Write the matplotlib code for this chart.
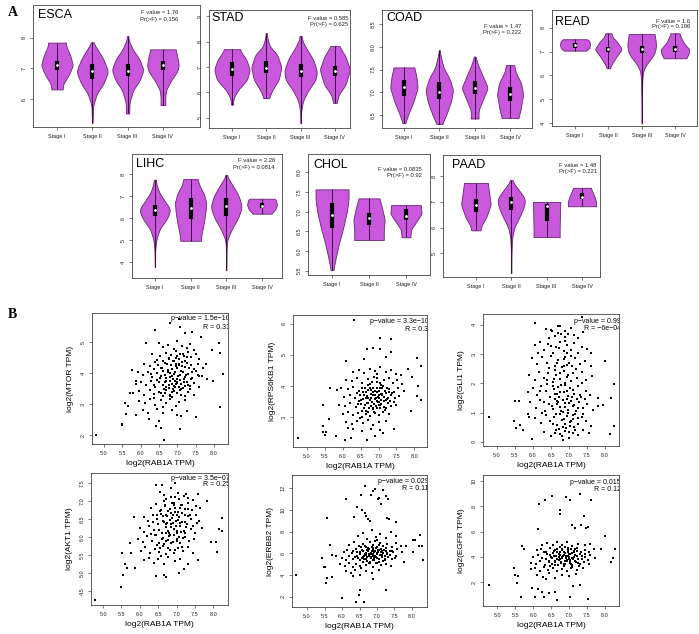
import numpy as np
import matplotlib
matplotlib.use('Agg')
import matplotlib.pyplot as plt

plt.rcParams['font.family'] = ['Liberation Sans', 'DejaVu Sans']

# ---------------- panel A: violin data ----------------
stages4 = ['Stage I', 'Stage II', 'Stage III', 'Stage IV']
stages3 = ['Stage I', 'Stage II', 'Stage IV']

# each violin: (levels, relative half-widths); boxes: (q1, median, q3)
esca_prof = [
    ([6.32, 6.5, 6.8, 7.1, 7.4, 7.7, 7.84], [0.35, 0.4, 0.75, 1.0, 0.85, 0.6, 0.55]),
    ([5.24, 5.8, 6.2, 6.5, 6.9, 7.3, 7.6, 7.85], [0.02, 0.05, 0.3, 0.7, 1.0, 0.7, 0.35, 0.05]),
    ([5.54, 5.9, 6.3, 6.6, 6.95, 7.3, 7.6, 7.9, 8.05], [0.1, 0.12, 0.35, 0.75, 1.0, 0.75, 0.35, 0.08, 0.03]),
    ([5.81, 6.1, 6.3, 6.6, 6.9, 7.1, 7.4, 7.62], [0.15, 0.15, 0.2, 0.5, 0.9, 1.0, 0.9, 0.8]),
]
esca_box = [(6.95, 7.1, 7.25), (6.65, 6.92, 7.15), (6.75, 6.93, 7.15), (6.95, 7.12, 7.25)]

stad_prof = [
    ([5.52, 5.8, 6.1, 6.5, 6.9, 7.3, 7.6, 7.7], [0.05, 0.1, 0.35, 0.85, 1.0, 0.8, 0.5, 0.45]),
    ([5.78, 6.1, 6.5, 7.0, 7.5, 7.8, 8.1, 8.33], [0.15, 0.35, 0.7, 0.85, 0.6, 0.2, 0.07, 0.03]),
    ([4.78, 5.3, 5.7, 6.1, 6.5, 6.85, 7.3, 7.7, 8.0, 8.22], [0.01, 0.03, 0.15, 0.45, 0.85, 0.92, 0.7, 0.35, 0.12, 0.04]),
    ([5.59, 5.9, 6.3, 6.9, 7.4, 7.7, 7.82], [0.1, 0.2, 0.6, 0.85, 0.6, 0.35, 0.25]),
]
stad_box = [(6.63, 6.93, 7.2), (6.75, 6.95, 7.25), (6.6, 6.85, 7.1), (6.65, 6.85, 7.05)]

coad_prof = [
    ([6.32, 6.5, 6.8, 7.1, 7.35, 7.55], [0.1, 0.3, 0.7, 1.0, 0.9, 0.75]),
    ([6.3, 6.5, 6.8, 7.05, 7.3, 7.55, 7.8, 7.93], [0.2, 0.5, 0.85, 1.0, 0.75, 0.3, 0.1, 0.03]),
    ([6.42, 6.6, 6.8, 7.1, 7.35, 7.6, 7.79], [0.28, 0.28, 0.55, 0.95, 0.6, 0.25, 0.05]),
    ([6.43, 6.6, 6.95, 7.2, 7.45, 7.6], [0.6, 0.75, 0.95, 0.8, 0.4, 0.3]),
]
coad_box = [(6.92, 7.12, 7.28), (6.85, 7.0, 7.23), (6.97, 7.1, 7.25), (6.8, 6.96, 7.12)]

read_prof = [
    ([7.04, 7.15, 7.3, 7.45, 7.52], [0.75, 0.95, 1.0, 0.95, 0.8]),
    ([6.3, 6.5, 6.8, 7.1, 7.4, 7.6, 7.77], [0.1, 0.25, 0.55, 0.9, 0.6, 0.3, 0.2]),
    ([3.98, 5.0, 5.8, 6.2, 6.5, 6.8, 7.1, 7.4, 7.74], [0.01, 0.02, 0.04, 0.1, 0.35, 0.75, 0.95, 0.95, 0.85]),
    ([6.72, 6.9, 7.1, 7.35, 7.6, 7.77], [0.75, 0.9, 0.95, 0.6, 0.4, 0.3]),
]
read_box = [(7.17, 7.27, 7.37), (7.0, 7.1, 7.2), (6.95, 7.1, 7.25), (6.98, 7.1, 7.25)]

lihc_prof = [
    ([3.78, 4.5, 5.0, 5.5, 6.0, 6.4, 6.8, 7.2, 7.5, 7.74], [0.01, 0.02, 0.08, 0.3, 0.8, 1.0, 0.6, 0.25, 0.12, 0.05]),
    ([4.97, 5.3, 5.8, 6.3, 6.7, 7.1, 7.5, 7.77], [0.65, 0.7, 0.85, 0.95, 1.0, 0.85, 0.55, 0.45]),
    ([3.63, 4.5, 5.0, 5.5, 6.0, 6.5, 7.0, 7.5, 7.8, 7.96], [0.01, 0.02, 0.05, 0.35, 0.75, 1.0, 0.8, 0.4, 0.12, 0.03]),
    ([6.2, 6.4, 6.6, 6.8, 6.88], [0.6, 0.85, 0.95, 0.9, 0.8]),
]
lihc_box = [(6.1, 6.37, 6.6), (5.95, 6.45, 6.9), (6.1, 6.55, 6.9), (6.45, 6.57, 6.68)]

chol_prof = [
    ([5.52, 5.8, 6.2, 6.6, 7.0, 7.3, 7.57], [0.08, 0.2, 0.4, 0.65, 0.85, 0.95, 0.95]),
    ([6.28, 6.5, 6.8, 7.1, 7.34], [0.85, 0.85, 0.9, 0.75, 0.6]),
    ([6.35, 6.55, 6.75, 6.95, 7.17], [0.25, 0.3, 0.6, 0.9, 0.85]),
]
chol_box = [(6.58, 6.92, 7.23), (6.65, 6.83, 6.97), (6.8, 6.9, 7.07)]

paad_prof = [
    ([5.89, 6.1, 6.4, 6.9, 7.3, 7.74], [0.3, 0.4, 0.7, 1.0, 0.9, 0.8]),
    ([4.22, 5.0, 5.6, 6.0, 6.4, 6.8, 7.1, 7.4, 7.7, 7.85], [0.01, 0.02, 0.06, 0.2, 0.55, 0.85, 0.95, 0.6, 0.2, 0.05]),
    ([5.63, 6.0, 6.5, 7.0], [0.88, 0.88, 0.9, 0.92]),
    ([6.83, 7.0, 7.2, 7.4, 7.55], [0.95, 0.95, 0.85, 0.7, 0.6]),
]
paad_box = [(6.6, 6.88, 7.12), (6.7, 7.0, 7.2), (6.25, 6.85, 6.9), (7.1, 7.2, 7.35)]

# (F value, Pr(>F))
violin_stats = {
    'ESCA': ('1.76', '0.156'), 'STAD': ('0.585', '0.625'), 'COAD': ('1.47', '0.222'),
    'READ': ('1.6', '0.196'), 'LIHC': ('2.26', '0.0814'), 'CHOL': ('0.0835', '0.92'),
    'PAAD': ('1.48', '0.221'),
}

# ---------------- panel B: scatter data (log2 TPM) ----------------
mtor_pts = [
    (4.79, 2.0), (5.5, 2.37), (5.5, 2.31), (5.56, 3.03), (5.65, 2.95), (5.61, 2.67), (5.72, 3.35), (5.75, 4.1),
    (5.88, 2.66), (5.88, 3.76), (6.15, 4.97), (6.38, 5.4), (6.41, 2.28), (6.55, 2.24), (6.64, 1.85), (6.79, 5.61),
    (7.06, 2.2), (7.11, 2.61), (7.2, 5.29), (7.41, 5.32), (7.5, 2.58), (7.65, 5.16), (7.93, 4.73), (8.14, 4.97),
    (8.15, 4.65), (8.15, 2.9), (8.23, 3.98), (7.97, 3.76), (7.06, 5.5), (7.05, 5.75), (7.6, 3.92), (7.79, 4.28),
    (7.81, 3.82),
    (6.50, 4.98), (6.62, 4.85), (6.75, 4.92), (6.90, 4.78), (7.00, 5.02), (7.12, 4.88), (7.25, 4.80), (7.33, 4.95),
    (7.45, 4.75), (6.95, 4.70), (6.30, 4.62), (6.52, 4.55), (6.68, 4.66), (6.83, 4.58), (6.97, 4.50), (7.06, 4.62),
    (7.18, 4.55), (7.28, 4.68), (7.38, 4.52), (7.52, 4.60), (7.60, 4.45), (6.44, 4.42), (6.78, 4.44),
    (6.10, 4.30), (6.24, 4.22), (6.40, 4.35), (6.55, 4.18), (6.65, 4.32), (6.82, 4.25), (6.90, 4.38), (7.00, 4.15),
    (7.05, 4.28), (7.12, 4.36), (7.22, 4.20), (7.26, 4.33), (7.36, 4.25), (7.46, 4.12), (7.56, 4.30), (7.70, 4.18),
    (6.35, 4.12), (6.95, 4.22), (5.92, 4.02), (6.05, 3.95), (6.20, 4.05), (6.30, 3.88), (6.45, 4.00), (6.55, 3.92),
    (6.60, 4.08), (6.70, 3.85), (6.80, 4.00), (6.86, 3.90), (6.94, 4.05), (7.00, 3.82), (7.06, 3.95), (7.15, 4.02),
    (7.20, 3.88), (7.30, 3.98), (7.40, 3.85), (7.55, 3.95), (7.66, 3.90), (6.88, 3.80), (6.74, 4.04),
    (5.86, 3.65), (6.00, 3.72), (6.15, 3.60), (6.28, 3.75), (6.40, 3.55), (6.50, 3.70), (6.60, 3.62), (6.70, 3.74),
    (6.76, 3.52), (6.84, 3.66), (6.90, 3.58), (7.00, 3.72), (7.04, 3.55), (7.10, 3.65), (7.26, 3.70), (7.34, 3.58),
    (7.46, 3.68), (7.58, 3.55), (6.96, 3.64), (6.80, 3.76), (5.80, 3.35), (5.96, 3.42), (6.10, 3.28), (6.25, 3.45),
    (6.36, 3.32), (6.50, 3.40), (6.60, 3.25), (6.70, 3.45), (6.80, 3.30), (6.90, 3.42), (7.00, 3.35), (7.10, 3.48),
    (7.20, 3.26), (7.30, 3.40), (7.44, 3.30), (6.66, 3.36), (6.86, 3.22), (5.95, 3.10), (6.12, 3.05), (6.26, 3.15),
    (6.40, 2.98), (6.55, 3.12), (6.70, 3.02), (6.80, 3.15), (6.95, 2.95), (7.05, 3.08), (7.22, 3.12), (6.60, 2.92),
    (6.35, 3.18), (6.05, 2.80), (6.20, 2.72), (6.45, 2.85), (6.62, 2.70), (6.85, 2.82), (7.00, 2.65), (7.25, 2.78),
    (6.22, 2.52), (6.50, 2.45),
]
mtor_core = [
    (6.52, 3.85), (6.58, 4.15), (6.63, 3.48), (6.67, 3.95), (6.72, 4.28), (6.77, 3.62), (6.81, 3.88), (6.85, 4.12),
    (6.88, 3.50), (6.92, 3.98), (6.96, 4.30), (6.99, 3.68), (7.02, 3.90), (7.05, 4.45), (7.08, 3.78), (7.11, 4.08),
    (7.14, 3.52), (7.17, 3.82), (7.21, 4.40), (7.24, 3.95), (7.28, 3.62), (7.31, 4.15), (7.36, 3.80), (7.40, 4.02),
    (6.62, 4.38), (6.70, 3.55), (6.78, 4.48), (6.84, 3.40), (6.93, 3.75), (7.00, 4.55), (7.07, 3.45), (7.13, 4.22),
    (7.19, 3.70), (7.26, 4.52), (7.33, 3.48), (6.45, 3.78), (6.48, 4.25), (6.56, 3.35), (6.65, 3.72), (6.74, 4.10),
    (6.80, 3.25), (6.87, 4.40), (6.94, 3.55), (7.03, 4.25), (7.10, 3.30), (7.16, 4.60), (7.22, 3.58), (6.36, 3.62),
    (6.28, 3.98), (7.50, 4.08),
]

rps6kb1_pts = [
    (6.33, 6.13), (7.03, 5.54), (7.35, 5.51), (6.69, 5.18), (6.85, 5.22), (7.03, 5.18), (6.09, 4.81), (6.6, 4.86),
    (7.35, 5.1), (7.21, 4.95), (8.07, 4.89), (8.18, 4.65), (7.82, 4.54), (7.94, 4.3), (8.09, 4.0), (8.07, 3.66),
    (8.18, 3.55), (7.91, 3.19), (5.66, 3.95), (5.85, 3.87), (5.45, 3.39), (5.62, 2.94), (5.45, 2.72), (5.45, 2.53),
    (5.54, 2.53), (5.51, 2.42), (4.75, 2.31), (5.82, 2.37), (6.07, 2.26), (6.24, 2.31), (6.69, 2.24), (7.44, 2.61),
    (7.12, 2.47), (6.89, 2.4),
    (6.30, 4.45), (6.45, 4.50), (6.60, 4.42), (6.75, 4.55), (6.90, 4.48), (7.05, 4.60), (7.20, 4.45), (7.35, 4.52),
    (7.50, 4.40), (7.62, 4.35), (6.95, 4.38), (6.10, 4.20), (6.25, 4.15), (6.40, 4.25), (6.55, 4.10), (6.70, 4.22),
    (6.82, 4.12), (6.95, 4.25), (7.05, 4.08), (7.15, 4.18), (7.28, 4.25), (7.40, 4.10), (7.52, 4.20), (7.66, 4.05),
    (6.88, 4.30), (5.95, 3.95), (6.15, 3.90), (6.30, 3.98), (6.45, 3.85), (6.55, 3.95), (6.65, 3.82), (6.75, 3.92),
    (6.85, 3.80), (6.95, 3.95), (7.02, 3.85), (7.10, 3.92), (7.20, 3.78), (7.30, 3.90), (7.42, 3.82), (7.55, 3.95),
    (7.70, 3.85), (6.70, 4.02), (7.08, 4.02), (6.05, 3.65), (6.20, 3.72), (6.35, 3.60), (6.48, 3.70), (6.58, 3.58),
    (6.68, 3.68), (6.76, 3.55), (6.84, 3.70), (6.92, 3.62), (7.00, 3.72), (7.06, 3.55), (7.14, 3.65), (7.24, 3.58),
    (7.34, 3.70), (7.46, 3.60), (7.58, 3.68), (6.80, 3.62), (6.96, 3.52), (7.10, 3.75), (5.90, 3.40), (6.08, 3.35),
    (6.22, 3.45), (6.38, 3.32), (6.50, 3.42), (6.60, 3.30), (6.70, 3.45), (6.78, 3.35), (6.88, 3.42), (6.96, 3.30),
    (7.04, 3.40), (7.14, 3.32), (7.26, 3.45), (7.36, 3.35), (7.50, 3.40), (6.66, 3.20), (6.84, 3.25), (7.00, 3.48),
    (6.00, 3.10), (6.15, 3.15), (6.28, 3.05), (6.42, 3.12), (6.55, 3.00), (6.65, 3.10), (6.75, 3.02), (6.90, 3.12),
    (7.00, 3.05), (7.12, 3.15), (7.30, 3.08), (6.48, 2.95), (6.10, 2.85), (6.25, 2.78), (6.40, 2.88), (6.58, 2.80),
    (6.72, 2.90), (6.86, 2.75), (7.00, 2.85), (7.20, 2.88), (6.30, 2.60), (6.55, 2.55), (6.80, 2.62), (7.05, 2.58),
    (6.15, 2.65),
]
rps6kb1_core = [
    (6.52, 3.55), (6.57, 3.82), (6.62, 3.38), (6.66, 3.62), (6.71, 3.88), (6.74, 3.28), (6.78, 3.75), (6.82, 3.48),
    (6.86, 3.95), (6.89, 3.58), (6.93, 3.35), (6.97, 3.80), (7.01, 3.62), (7.04, 3.92), (7.07, 3.42), (7.11, 3.70),
    (7.15, 3.50), (7.18, 3.85), (7.22, 3.30), (7.26, 3.62), (7.30, 3.80), (6.60, 3.72), (6.68, 3.45), (6.76, 4.05),
    (6.84, 3.30), (6.91, 3.70), (6.99, 3.48), (7.06, 3.75), (7.13, 4.00), (7.20, 3.55), (6.46, 3.50), (6.53, 3.18),
    (6.63, 3.95), (6.72, 3.15), (6.80, 3.88), (6.88, 3.15), (6.95, 4.12), (7.03, 3.28), (7.09, 3.95), (7.17, 3.22),
    (7.25, 3.92), (7.32, 3.52), (6.40, 3.78), (6.44, 3.42), (7.38, 3.78), (7.44, 3.48), (6.98, 3.65), (6.90, 3.85),
    (6.70, 3.60), (7.00, 3.38),
]

gli1_pts = [
    (4.77, 0.84), (6.06, 4.06), (5.48, 0.7), (5.53, 0.48), (5.64, 0.59), (5.71, 0.42), (5.6, 1.41), (5.49, 1.41),
    (5.89, 0.84), (5.87, 0.97), (5.96, 0.1), (8.14, 0.28), (8.26, 0.56), (8.17, 1.5), (8.26, 1.98), (8.01, 2.78),
    (7.8, 1.5), (7.94, 1.25), (7.8, 1.22), (7.61, 3.03), (7.37, 4.28), (6.97, 3.68), (6.69, 3.72), (6.51, 3.84),
    (6.74, 3.95), (6.9, 3.78),
    (6.35, 3.85), (6.52, 3.78), (6.62, 3.62), (6.78, 3.70), (6.90, 3.58), (7.05, 3.90), (7.15, 3.66), (7.25, 3.55),
    (6.45, 3.55), (7.40, 3.75), (6.70, 3.95), (6.05, 3.30), (6.20, 3.42), (6.30, 3.15), (6.42, 3.35), (6.55, 3.05),
    (6.65, 3.25), (6.75, 3.40), (6.85, 3.10), (6.95, 3.30), (7.05, 3.15), (7.15, 3.38), (7.25, 3.05), (7.35, 3.25),
    (7.50, 3.18), (6.15, 3.05), (6.88, 3.45), (5.98, 2.85), (6.12, 2.65), (6.25, 2.90), (6.38, 2.70), (6.50, 2.95),
    (6.60, 2.60), (6.70, 2.80), (6.80, 2.55), (6.90, 2.90), (7.00, 2.70), (7.08, 2.58), (7.18, 2.85), (7.30, 2.65),
    (7.45, 2.78), (7.60, 2.60), (6.45, 2.52), (6.95, 2.62), (5.90, 2.30), (6.05, 2.10), (6.18, 2.40), (6.30, 2.20),
    (6.42, 2.35), (6.55, 2.05), (6.65, 2.30), (6.75, 2.15), (6.85, 2.42), (6.95, 2.22), (7.05, 2.08), (7.12, 2.35),
    (7.22, 2.18), (7.35, 2.40), (7.48, 2.12), (7.65, 2.25), (6.60, 2.45), (6.90, 2.02), (5.85, 1.70), (6.00, 1.85),
    (6.10, 1.60), (6.22, 1.92), (6.35, 1.75), (6.48, 1.55), (6.58, 1.80), (6.68, 1.62), (6.78, 1.95), (6.86, 1.70),
    (6.96, 1.58), (7.04, 1.85), (7.14, 1.65), (7.24, 1.90), (7.34, 1.55), (7.46, 1.75), (7.58, 1.60), (6.72, 1.52),
    (6.40, 1.98), (5.92, 1.35), (6.08, 1.15), (6.20, 1.42), (6.32, 1.05), (6.45, 1.30), (6.55, 1.12), (6.62, 1.45),
    (6.70, 1.38), (6.74, 1.20), (6.82, 1.02), (6.90, 1.32), (6.98, 1.10), (7.06, 1.40), (7.12, 1.22), (7.20, 1.05),
    (7.28, 1.35), (7.38, 1.15), (7.50, 1.28), (7.66, 1.10), (6.66, 1.40), (6.95, 1.46), (6.05, 0.80), (6.22, 0.65),
    (6.35, 0.92), (6.48, 0.70), (6.58, 0.85), (6.66, 0.58), (6.74, 0.95), (6.80, 0.75), (6.88, 0.62), (6.95, 0.88),
    (7.02, 0.55), (7.10, 0.78), (7.18, 0.95), (7.26, 0.62), (7.36, 0.85), (7.48, 0.70), (7.62, 0.55), (6.84, 0.52),
    (7.05, 0.70), (6.30, 0.35), (6.50, 0.20), (6.64, 0.42), (6.76, 0.28), (6.90, 0.38), (7.00, 0.15), (7.12, 0.32),
    (7.25, 0.22), (7.40, 0.40), (6.82, 0.08), (7.55, 0.30),
]
gli1_core = [
    (6.52, 1.22), (6.56, 0.62), (6.60, 1.62), (6.64, 0.95), (6.68, 1.28), (6.71, 0.45), (6.75, 1.70), (6.78, 1.05),
    (6.82, 1.42), (6.85, 0.78), (6.88, 1.18), (6.92, 0.48), (6.95, 1.75), (6.98, 0.98), (7.01, 1.32), (7.04, 0.68),
    (7.08, 1.55), (7.11, 0.92), (7.15, 1.25), (7.18, 0.40), (7.22, 1.48), (7.26, 0.82), (7.30, 1.60), (6.62, 0.30),
    (6.80, 0.20), (7.00, 0.35), (7.14, 0.52), (6.70, 1.88), (6.90, 1.95), (7.10, 1.78), (6.58, 2.15), (6.76, 2.35),
    (6.98, 2.28), (7.20, 2.50), (6.66, 2.70), (6.86, 2.82), (7.06, 2.95), (6.72, 3.20), (6.94, 3.05), (6.50, 3.28),
    (6.40, 2.10), (6.30, 1.38), (6.25, 0.98), (7.40, 0.95), (7.45, 1.45), (7.35, 2.00), (6.20, 1.75), (6.55, 1.90),
    (7.25, 1.15), (6.85, 2.60),
]

akt1_pts = [
    (4.77, 4.24), (5.5, 4.61), (5.52, 5.56), (5.54, 4.95), (5.6, 5.25), (5.64, 5.15), (5.75, 5.56), (5.88, 5.15),
    (5.72, 5.82), (6.43, 7.44), (6.59, 7.44), (6.97, 7.5), (7.59, 7.19), (7.84, 7.0), (8.23, 6.54), (8.15, 6.23),
    (8.23, 6.17), (7.93, 5.86), (8.08, 5.86), (8.11, 5.58), (7.59, 5.35), (6.43, 4.91), (6.65, 4.94), (6.7, 4.89),
    (7.06, 5.0), (7.2, 5.1), (5.84, 6.56),
    (6.55, 7.25), (6.72, 7.05), (6.85, 7.35), (6.95, 7.10), (7.05, 7.22), (7.20, 7.15), (7.30, 7.08), (7.45, 7.02),
    (6.65, 7.18), (6.30, 6.80), (6.45, 6.92), (6.58, 6.75), (6.68, 6.88), (6.78, 6.72), (6.88, 6.95), (6.96, 6.80),
    (7.04, 6.70), (7.12, 6.90), (7.22, 6.78), (7.32, 6.95), (7.42, 6.75), (7.52, 6.85), (7.65, 6.80), (6.92, 6.88),
    (6.10, 6.55), (6.22, 6.45), (6.35, 6.62), (6.48, 6.50), (6.58, 6.65), (6.66, 6.42), (6.74, 6.58), (6.82, 6.48),
    (6.90, 6.62), (6.98, 6.45), (7.06, 6.55), (7.14, 6.68), (7.22, 6.42), (7.30, 6.58), (7.40, 6.50), (7.52, 6.62),
    (7.62, 6.45), (6.86, 6.68), (7.10, 6.40), (6.00, 6.25), (6.12, 6.15), (6.25, 6.32), (6.38, 6.20), (6.50, 6.35),
    (6.60, 6.12), (6.70, 6.28), (6.78, 6.18), (6.86, 6.35), (6.94, 6.22), (7.02, 6.10), (7.10, 6.30), (7.20, 6.18),
    (7.28, 6.36), (7.38, 6.22), (7.50, 6.12), (7.70, 6.25), (6.82, 6.05), (5.95, 5.95), (6.08, 5.85), (6.20, 6.02),
    (6.32, 5.90), (6.42, 6.05), (6.52, 5.82), (6.62, 5.98), (6.72, 5.88), (6.80, 6.02), (6.90, 5.85), (7.00, 5.95),
    (7.10, 5.82), (7.22, 6.00), (7.35, 5.88), (7.48, 5.95), (6.66, 5.80), (6.02, 5.62), (6.15, 5.72), (6.28, 5.55),
    (6.40, 5.68), (6.52, 5.58), (6.62, 5.75), (6.70, 5.52), (6.82, 5.65), (6.92, 5.55), (7.05, 5.70), (7.18, 5.60),
    (7.32, 5.72), (7.45, 5.55), (6.48, 5.78), (6.10, 5.35), (6.25, 5.42), (6.38, 5.28), (6.50, 5.38), (6.65, 5.25),
    (6.78, 5.45), (6.95, 5.32), (7.10, 5.40), (7.30, 5.25), (6.58, 5.48),
]
akt1_core = [
    (6.52, 6.20), (6.56, 6.72), (6.60, 5.95), (6.64, 6.45), (6.68, 6.85), (6.71, 6.10), (6.75, 6.40), (6.78, 5.92),
    (6.82, 6.78), (6.85, 6.28), (6.88, 6.52), (6.92, 6.05), (6.95, 6.70), (6.98, 6.30), (7.01, 5.88), (7.04, 6.48),
    (7.08, 6.82), (7.11, 6.15), (7.15, 6.42), (7.18, 5.98), (7.22, 6.60), (7.26, 6.28), (7.30, 6.78), (6.62, 6.58),
    (6.70, 6.62), (6.80, 6.12), (6.90, 6.40), (7.00, 6.62), (7.07, 6.00), (7.14, 6.88), (7.24, 6.10), (6.46, 6.60),
    (6.44, 6.05), (6.54, 5.70), (6.66, 7.00), (6.76, 5.70), (6.86, 7.10), (6.97, 5.65), (7.06, 7.05), (7.16, 5.72),
    (7.27, 7.20), (7.36, 6.62), (7.44, 6.30), (6.36, 6.42), (6.30, 6.08), (7.55, 6.38), (6.92, 6.95), (6.72, 6.35),
    (7.02, 6.18), (6.84, 5.82),
]

erbb2_pts = [
    (4.68, 4.03), (5.44, 5.54), (5.48, 4.71), (5.52, 4.71), (5.57, 3.69), (5.7, 3.85), (5.53, 3.23), (5.57, 9.23),
    (5.65, 6.8), (5.7, 5.85), (5.84, 5.78), (6.01, 1.94), (6.12, 11.02), (6.34, 9.32), (6.5, 2.65), (6.65, 12.18),
    (6.55, 11.32), (6.43, 10.25), (6.58, 10.0), (6.65, 9.7), (6.7, 9.4), (6.75, 9.2), (6.84, 11.38), (6.9, 11.7),
    (6.95, 11.9), (7.03, 11.0), (7.06, 11.1), (7.17, 11.8), (7.25, 11.3), (7.31, 11.0), (7.12, 10.55), (7.29, 9.23),
    (7.34, 9.15), (6.79, 9.0), (7.55, 8.86), (6.39, 1.54), (6.48, 2.15), (6.64, 1.57), (7.25, 2.65), (6.9, 3.63),
    (7.76, 5.17), (8.03, 7.26), (8.08, 7.26), (8.22, 7.69), (8.3, 6.65), (8.31, 5.42), (8.2, 6.7), (8.03, 6.1),
    (7.84, 6.65),
    (6.45, 7.60), (6.60, 7.90), (6.72, 7.30), (6.85, 8.10), (6.98, 7.50), (7.10, 7.80), (7.25, 7.40), (7.40, 8.00),
    (7.55, 7.60), (7.00, 7.25), (6.20, 6.80), (6.35, 7.00), (6.48, 6.65), (6.60, 6.90), (6.70, 6.60), (6.80, 7.05),
    (6.90, 6.75), (7.00, 6.55), (7.08, 6.95), (7.18, 6.70), (7.30, 6.85), (7.42, 6.60), (7.55, 6.95), (7.68, 6.70),
    (6.95, 7.10), (6.05, 6.10), (6.15, 6.30), (6.28, 6.00), (6.40, 6.40), (6.50, 6.15), (6.58, 6.35), (6.66, 5.95),
    (6.74, 6.25), (6.82, 6.05), (6.88, 6.45), (6.94, 6.20), (7.00, 6.00), (7.06, 6.35), (7.12, 6.10), (7.20, 6.30),
    (7.28, 6.00), (7.36, 6.25), (7.46, 6.10), (7.58, 6.40), (7.72, 6.15), (6.78, 6.40), (7.02, 6.22), (6.90, 5.95),
    (6.00, 5.60), (6.10, 5.40), (6.20, 5.75), (6.32, 5.50), (6.42, 5.80), (6.52, 5.35), (6.60, 5.65), (6.68, 5.45),
    (6.76, 5.80), (6.84, 5.55), (6.92, 5.35), (6.98, 5.70), (7.06, 5.50), (7.14, 5.85), (7.22, 5.40), (7.32, 5.65),
    (7.42, 5.50), (7.54, 5.75), (6.72, 5.62), (6.88, 5.75), (5.95, 5.00), (6.08, 4.80), (6.20, 5.15), (6.30, 4.70),
    (6.40, 5.05), (6.50, 4.85), (6.60, 5.20), (6.70, 4.95), (6.80, 5.10), (6.90, 4.75), (7.00, 5.15), (7.12, 4.90),
    (7.25, 5.05), (7.40, 4.80), (6.55, 4.65), (6.10, 4.40), (6.25, 4.20), (6.38, 4.50), (6.50, 4.05), (6.68, 4.35),
    (6.85, 4.15), (7.05, 4.45), (6.30, 3.90),
]
erbb2_core = [
    (6.52, 5.90), (6.56, 5.55), (6.60, 6.20), (6.64, 5.75), (6.68, 6.05), (6.71, 5.30), (6.75, 6.45), (6.78, 5.95),
    (6.82, 5.65), (6.85, 6.25), (6.88, 5.40), (6.92, 6.10), (6.95, 5.80), (6.98, 6.50), (7.01, 5.58), (7.04, 6.15),
    (7.08, 5.85), (7.11, 6.40), (7.15, 5.62), (7.18, 6.05), (7.22, 5.78), (7.26, 6.48), (7.30, 5.92), (6.62, 5.45),
    (6.70, 5.85), (6.80, 5.20), (6.90, 6.30), (7.00, 5.95), (7.07, 5.25), (7.14, 6.20), (7.24, 5.50), (6.46, 5.60),
    (6.44, 6.15), (6.54, 6.55), (6.66, 6.70), (6.76, 5.10), (6.86, 6.62), (6.97, 5.12), (7.06, 6.75), (7.16, 5.30),
    (7.27, 6.20), (7.36, 5.85), (7.44, 6.25), (6.36, 5.70), (6.30, 6.20), (7.52, 5.60), (6.92, 5.55), (6.72, 6.30),
    (7.02, 6.30), (6.84, 5.92),
]

egfr_pts = [
    (4.77, 1.76), (5.48, 3.08), (5.5, 2.55), (5.58, 2.45), (5.56, 1.9), (5.67, 0.84), (5.69, 4.84), (5.74, 4.65),
    (5.97, 1.5), (5.93, 3.0), (6.04, 0.79), (6.13, 6.18), (6.16, 8.21), (6.3, 0.84), (6.34, 8.53), (6.53, 8.79),
    (6.67, 0.58), (6.74, 7.74), (6.74, 7.42), (6.93, 8.74), (7.04, 8.53), (7.04, 0.84), (7.1, 6.5), (7.17, 6.3),
    (7.34, 6.5), (7.47, 6.3), (7.31, 9.0), (7.41, 7.21), (7.52, 0.63), (7.61, 8.47), (7.52, 6.37), (8.01, 5.63),
    (8.17, 3.61), (8.29, 4.58), (8.24, 3.9), (7.9, 4.58), (7.31, 1.76), (7.11, 1.68), (6.45, 1.1), (6.6, 1.2),
    (6.13, 1.45), (6.24, 1.2),
    (6.40, 5.10), (6.55, 4.90), (6.68, 5.20), (6.80, 4.95), (6.95, 5.15), (7.10, 4.85), (7.25, 5.05), (7.45, 4.90),
    (6.25, 4.95), (7.60, 5.00), (6.10, 4.50), (6.22, 4.65), (6.35, 4.40), (6.48, 4.70), (6.58, 4.45), (6.66, 4.60),
    (6.74, 4.35), (6.82, 4.55), (6.90, 4.75), (6.98, 4.40), (7.06, 4.62), (7.14, 4.45), (7.24, 4.70), (7.34, 4.40),
    (7.44, 4.55), (7.56, 4.38), (7.70, 4.60), (6.88, 4.32), (6.00, 4.00), (6.14, 4.15), (6.26, 3.90), (6.38, 4.20),
    (6.50, 3.95), (6.58, 4.10), (6.66, 3.85), (6.72, 4.25), (6.80, 3.98), (6.86, 4.15), (6.92, 3.88), (6.98, 4.05),
    (7.04, 4.22), (7.10, 3.92), (7.18, 4.12), (7.26, 3.85), (7.36, 4.05), (7.46, 3.95), (7.58, 4.18), (7.72, 3.90),
    (6.76, 3.82), (7.00, 3.80), (5.95, 3.55), (6.08, 3.40), (6.20, 3.65), (6.32, 3.35), (6.44, 3.60), (6.54, 3.45),
    (6.62, 3.70), (6.70, 3.38), (6.78, 3.58), (6.86, 3.42), (6.94, 3.68), (7.02, 3.50), (7.10, 3.35), (7.20, 3.62),
    (7.30, 3.45), (7.42, 3.60), (7.56, 3.40), (6.60, 3.32), (6.05, 3.10), (6.18, 2.90), (6.30, 3.20), (6.42, 2.95),
    (6.55, 3.15), (6.68, 2.85), (6.80, 3.05), (6.95, 2.90), (7.08, 3.20), (7.22, 2.95), (7.40, 3.10), (6.48, 3.25),
    (6.12, 2.60), (6.28, 2.40), (6.45, 2.70), (6.62, 2.35), (6.80, 2.55), (7.00, 2.45), (7.20, 2.65), (6.35, 2.25),
]
egfr_core = [
    (6.52, 3.90), (6.56, 4.30), (6.60, 3.60), (6.64, 4.05), (6.68, 4.42), (6.71, 3.72), (6.75, 4.15), (6.78, 3.48),
    (6.82, 3.92), (6.85, 4.38), (6.88, 3.65), (6.92, 4.10), (6.95, 3.78), (6.98, 4.50), (7.01, 3.95), (7.04, 3.58),
    (7.08, 4.28), (7.11, 3.82), (7.15, 4.35), (7.18, 3.70), (7.22, 4.05), (7.26, 3.55), (7.30, 4.20), (6.62, 4.55),
    (6.70, 3.35), (6.80, 4.62), (6.90, 3.45), (7.00, 4.25), (7.07, 3.40), (7.14, 3.98), (7.24, 4.45), (6.46, 4.15),
    (6.44, 3.70), (6.54, 3.40), (6.66, 3.80), (6.76, 4.80), (6.86, 3.25), (6.97, 4.70), (7.06, 3.15), (7.16, 4.60),
    (7.27, 3.30), (7.36, 3.85), (7.44, 4.25), (6.36, 3.82), (6.30, 4.35), (7.52, 3.75), (6.92, 3.98), (6.72, 3.95),
    (7.02, 3.72), (6.84, 4.08),
]

scatter_stats = {
    'MTOR': ('1.5e\u221210', '0.31'), 'RPS6KB1': ('3.3e\u221210', '0.3'), 'GLI1': ('0.99', '\u22126e\u221204'),
    'AKT1': ('3.5e\u221207', '0.25'), 'ERBB2': ('0.029', '0.11'), 'EGFR': ('0.015', '0.12'),
}

# ---------------- figure ----------------
W, H = 699, 634
fig = plt.figure(figsize=(W / 100, H / 100), dpi=100)


def px_axes(x0, y0, x1, y1):
    return fig.add_axes([x0 / W, 1 - y1 / H, (x1 - x0) / W, (y1 - y0) / H])


def style_frame(ax):
    for s in ax.spines.values():
        s.set_linewidth(0.6)
        s.set_color('#444444')
    ax.tick_params(length=2.2, width=0.5, color='#444444', pad=2.5, labelsize=4, labelcolor='#222222')
    for lab in ax.get_yticklabels():
        lab.set_rotation(90)
        lab.set_va('center')


def smooth_profile(levels, widths, n=240, k=21):
    ys = np.linspace(levels[0], levels[-1], n)
    w = np.interp(ys, levels, widths)
    pad = np.concatenate([np.full(k, w[0]), w, np.full(k, w[-1])])
    w = np.convolve(pad, np.ones(k) / k, mode='same')[k:-k]
    return ys, w


violin_panels = [
    # name, profiles, boxes, labels, rect px, xlim, ylim, yticks, width scale, title pos, stats pos
    ('ESCA', esca_prof, esca_box, stages4, (33, 5, 200, 127), (0.32, 5.05), (5.1, 9.06), [6, 7, 8], 0.45, (0.03, 0.92), (0.87, 0.935)),
    ('STAD', stad_prof, stad_box, stages4, (209, 10, 350, 128), (0.33, 4.44), (4.6, 9.24), [5, 6, 7, 8, 9], 0.52, (0.015, 0.93), (0.99, 0.93)),
    ('COAD', coad_prof, coad_box, stages4, (382, 10, 532, 128), (0.38, 4.62), (6.21, 8.82), [6.5, 7.0, 7.5, 8.0, 8.5], 0.39, (0.027, 0.93), (0.93, 0.856)),
    ('READ', read_prof, read_box, stages4, (552, 10, 697, 126), (0.31, 4.66), (3.87, 8.75), [4, 5, 6, 7, 8], 0.45, (0.02, 0.9), (0.95, 0.905)),
    ('LIHC', lihc_prof, lihc_box, stages4, (132, 154, 282, 278), (0.36, 4.56), (3.28, 8.91), [4, 5, 6, 7, 8], 0.44, (0.027, 0.92), (0.953, 0.944)),
    ('CHOL', chol_prof, chol_box, stages3, (308, 154, 430, 275), (0.35, 3.65), (5.39, 8.47), [5.5, 6.0, 6.5, 7.0, 7.5, 8.0], 0.47, (0.04, 0.91), (0.934, 0.876)),
    ('PAAD', paad_prof, paad_box, stages4, (443, 155, 600, 277), (0.07, 4.51), (4.07, 8.83), [5, 6, 7, 8], 0.42, (0.057, 0.918), (0.98, 0.918)),
]

vio_fill = '#c958dc'
vio_edge = '#6a2478'

for name, profs, boxes, labels, rect, xlim, ylim, yticks, wscale, tpos, spos in violin_panels:
    ax = px_axes(*rect)
    for i, ((levels, widths), (q1, med, q3)) in enumerate(zip(profs, boxes)):
        pos = i + 1
        ys, w = smooth_profile(levels, widths)
        ax.fill_betweenx(ys, pos - w * wscale, pos + w * wscale, facecolor=vio_fill,
                         edgecolor=vio_edge, linewidth=0.6, zorder=2)
        ax.vlines(pos, levels[0], levels[-1], color='#3a0a44', linewidth=0.7, zorder=3)
        ax.vlines(pos, q1, q3, color='black', linewidth=3.0, zorder=4)
        ax.scatter([pos], [med], s=4, color='white', zorder=5, linewidths=0)
    ax.set_xlim(*xlim)
    ax.set_ylim(*ylim)
    ax.set_xticks(range(1, len(labels) + 1))
    ax.set_xticklabels(labels)
    ax.set_yticks(yticks)
    style_frame(ax)
    ax.text(tpos[0], tpos[1], name, transform=ax.transAxes, fontsize=9, ha='left', va='center')
    fval, pval = violin_stats[name]
    ax.text(spos[0], spos[1], 'F value = ' + fval, transform=ax.transAxes, fontsize=4.2,
            ha='right', va='center', color='#222222')
    ax.text(spos[0], spos[1] - 0.05, 'Pr(>F) = ' + pval, transform=ax.transAxes, fontsize=4.2,
            ha='right', va='center', color='#222222')

scatter_panels = [
    ('MTOR', mtor_pts + mtor_core, (92, 313, 228, 444), (4.67, 8.38), (1.71, 5.94), [2, 3, 4, 5], (0.96, 0.89)),
    ('RPS6KB1', rps6kb1_pts + rps6kb1_core, (293, 315, 427, 447), (4.62, 8.35), (2.03, 6.29), [3, 4, 5, 6], (0.947, 0.89)),
    ('GLI1', gli1_pts + gli1_core, (483, 314, 619, 446), (4.61, 8.39), (-0.14, 4.37), [0, 1, 2, 3, 4], (0.94, 0.89)),
    ('AKT1', akt1_pts + akt1_core, (91, 473, 228, 605), (4.67, 8.4), (4.11, 7.78), [4.5, 5.0, 5.5, 6.0, 6.5, 7.0, 7.5], (0.955, 0.91)),
    ('ERBB2', erbb2_pts + erbb2_core, (292, 475, 427, 607), (4.57, 8.43), (1.07, 13.2), [2, 4, 6, 8, 10, 12], (0.947, 0.9)),
    ('EGFR', egfr_pts + egfr_core, (483, 475, 619, 606), (4.6, 8.4), (0.11, 10.47), [2, 4, 6, 8, 10], (0.94, 0.89)),
]
xt = [5.0, 5.5, 6.0, 6.5, 7.0, 7.5, 8.0]

for gene, pts, rect, xlim, ylim, yticks, tpos in scatter_panels:
    ax = px_axes(*rect)
    arr = np.array(pts)
    ax.scatter(arr[:, 0], arr[:, 1], s=2.2, marker='s', color='black', linewidths=0)
    ax.set_xlim(*xlim)
    ax.set_ylim(*ylim)
    ax.set_xticks(xt)
    ax.set_xticklabels(['%.1f' % v for v in xt])
    ax.set_yticks(yticks)
    if isinstance(yticks[0], float):
        ax.set_yticklabels(['%.1f' % v for v in yticks])
    style_frame(ax)
    ax.set_xlabel('log2(RAB1A TPM)', fontsize=6)
    ax.set_ylabel('log2(%s TPM)' % gene, fontsize=6)
    ax.xaxis.set_label_coords(0.5, -0.12)
    ax.yaxis.set_label_coords(-0.13, 0.5)
    pv, rv = scatter_stats[gene]
    ax.text(1.012, tpos[0], 'p\u2212value = ' + pv, transform=ax.transAxes, fontsize=5,
            ha='right', va='center', clip_on=True)
    ax.text(1.012, tpos[1], 'R = ' + rv, transform=ax.transAxes, fontsize=5,
            ha='right', va='center', clip_on=True)

fig.text(8 / W, 1 - 13 / H, 'A', fontsize=10, fontweight='bold', family='Liberation Serif', va='center')
fig.text(8 / W, 1 - 314 / H, 'B', fontsize=10, fontweight='bold', family='Liberation Serif', va='center')

fig.savefig('out.png', dpi=100)
